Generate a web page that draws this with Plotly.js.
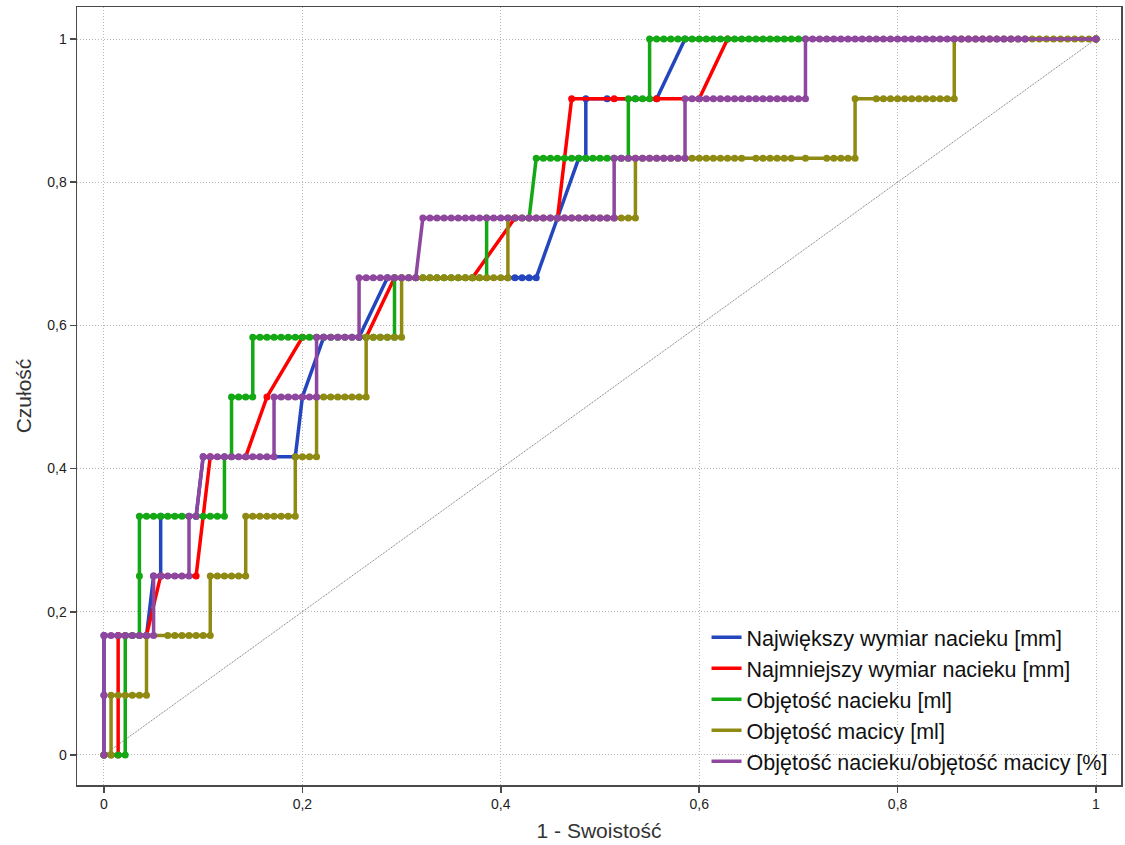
<!DOCTYPE html>
<html>
<head>
<meta charset="utf-8">
<script src="https://cdn.plot.ly/plotly-3.0.1.min.js"></script>
<style>html,body{margin:0;padding:0;background:#fff;}#chart{width:1125px;height:845px;}</style>
</head>
<body>
<div id="chart"></div>
<script>
// ROC data: false positives (out of NEGATIVES) and true positives (out of POSITIVES)
const NEGATIVES = 140;
const POSITIVES = 12;

const seriesNames = [
  "Największy wymiar nacieku [mm]",
  "Najmniejszy wymiar nacieku [mm]",
  "Objętość nacieku [ml]",
  "Objętość macicy [ml]",
  "Objętość nacieku/objętość macicy [%]"
];
const seriesColors = ["#2345bd", "#ff0000", "#14a814", "#8f8a12", "#8e469f"];

const blueFP = [0,0,0,6,7,8,8,13,14,27,28,31,36,40,57,58,59,60,61,64,67,68,68,71,75,78,82,140];
const blueTP = [0,1,2,2,3,3,4,4,5,5,6,7,7,8,8,8,8,8,8,9,10,10,11,11,11,11,12,12];

const redFP = [0,2,2,6,8,13,15,20,23,28,37,41,52,58,64,66,72,78,84,88,140];
const redTP = [0,0,2,2,3,3,5,5,6,7,7,8,8,9,9,11,11,11,11,12,12];

const greenFP = [0,1,2,3,
  3,4,5,
  5,
  5,6,7,8,9,10,11,12,13,14,15,16,17,
  17,18,
  18,19,20,21,
  21,22,23,24,25,26,27,28,29,30,31,32,33,34,35,36,37,38,39,40,41,
  41,42,43,44,45,46,47,48,49,50,51,52,53,54,
  54,60,
  61,62,63,64,65,66,67,68,69,70,71,72,73,74,
  74,75,76,77,
  77,78,79,80,81,82,83,84,85,86,87,88,89,90,91,92,93,94,95,96,97,98,99,
  140];
const greenTP = [0,0,0,0,
  2,2,2,
  3,
  4,4,4,4,4,4,4,4,4,4,4,4,4,
  5,5,
  6,6,6,6,
  7,7,7,7,7,7,7,7,7,7,7,7,7,7,7,7,7,7,7,7,7,
  8,8,8,8,8,8,8,8,8,8,8,8,8,8,
  9,9,
  10,10,10,10,10,10,10,10,10,10,10,10,10,10,
  11,11,11,11,
  12,12,12,12,12,12,12,12,12,12,12,12,12,12,12,12,12,12,12,12,12,12,12,
  12];

const oliveFP = [0,1,
  1,2,3,4,5,6,
  6,9,10,11,12,13,14,15,
  15,16,17,18,19,20,
  20,21,22,23,24,25,26,27,
  27,28,29,30,
  30,31,32,33,34,35,36,37,
  37,38,39,40,41,42,
  42,43,44,45,46,47,48,49,50,51,52,53,54,55,56,57,
  57,58,59,60,61,62,63,64,65,66,67,68,69,70,71,72,73,74,75,
  75,76,77,78,79,80,81,82,83,84,85,86,87,88,89,90,92,93,94,95,96,97,99,102,103,104,105,106,
  106,109,110,111,112,113,114,115,116,117,118,119,120,
  120,121,122,123,124,125,126,127,128,129,130,131,132,133,134,135,136,137,138,139,140];
const oliveTP = [0,0,
  1,1,1,1,1,1,
  2,2,2,2,2,2,2,2,
  3,3,3,3,3,3,
  4,4,4,4,4,4,4,4,
  5,5,5,5,
  6,6,6,6,6,6,6,6,
  7,7,7,7,7,7,
  8,8,8,8,8,8,8,8,8,8,8,8,8,8,8,8,
  9,9,9,9,9,9,9,9,9,9,9,9,9,9,9,9,9,9,9,
  10,10,10,10,10,10,10,10,10,10,10,10,10,10,10,10,10,10,10,10,10,10,10,10,10,10,10,10,
  11,11,11,11,11,11,11,11,11,11,11,11,11,
  12,12,12,12,12,12,12,12,12,12,12,12,12,12,12,12,12,12,12,12,12];

const purpleFP = [0,0,0,1,2,3,4,5,6,7,
  7,8,9,10,11,12,
  12,13,
  14,15,16,17,18,19,20,21,22,23,24,
  24,25,26,27,28,29,30,
  30,31,32,33,34,35,36,
  36,37,38,39,40,41,42,43,44,
  45,46,47,48,49,50,51,52,53,54,55,56,57,58,59,60,61,62,63,64,65,66,67,68,69,70,71,72,
  72,73,74,75,76,77,78,79,80,81,82,
  82,83,84,85,86,87,88,89,90,91,92,93,94,95,96,97,98,99,
  99,100,101,102,103,104,105,106,107,108,109,110,111,112,113,114,115,116,117,118,119,120,121,122,123,124,125,126,127,128,129,130,
  140];
const purpleTP = [0,1,2,2,2,2,2,2,2,2,
  3,3,3,3,3,3,
  4,4,
  5,5,5,5,5,5,5,5,5,5,5,
  6,6,6,6,6,6,6,
  7,7,7,7,7,7,7,
  8,8,8,8,8,8,8,8,8,
  9,9,9,9,9,9,9,9,9,9,9,9,9,9,9,9,9,9,9,9,9,9,9,9,9,9,9,9,
  10,10,10,10,10,10,10,10,10,10,10,
  11,11,11,11,11,11,11,11,11,11,11,11,11,11,11,11,11,11,
  12,12,12,12,12,12,12,12,12,12,12,12,12,12,12,12,12,12,12,12,12,12,12,12,12,12,12,12,12,12,12,12,
  12];

const diagX = [0, 1];
const diagY = [0, 1];

const tickVals = [0, 0.2, 0.4, 0.6, 0.8, 1];
const tickText = ["0", "0,2", "0,4", "0,6", "0,8", "1"];

const allFP = [blueFP, redFP, greenFP, oliveFP, purpleFP];
const allTP = [blueTP, redTP, greenTP, oliveTP, purpleTP];

const FONT = '"Liberation Sans", Arial, sans-serif';

const traces = [{
  x: diagX, y: diagY, mode: 'lines', showlegend: false, hoverinfo: 'skip',
  line: {color: '#6e6e6e', width: 1, dash: '1px,1px'}
}];

seriesNames.forEach((name, i) => {
  const xs = allFP[i].map(v => v / NEGATIVES);
  const ys = allTP[i].map(v => v / POSITIVES);
  traces.push({
    x: xs, y: ys, mode: 'lines', name: name, legendgroup: 'g' + i,
    line: {color: seriesColors[i], width: 3.5}
  });
  traces.push({
    x: xs, y: ys, mode: 'markers', name: name, legendgroup: 'g' + i, showlegend: false,
    marker: {color: seriesColors[i], size: 7}
  });
});

const axisCommon = {
  tickvals: tickVals, ticktext: tickText,
  showgrid: true, gridcolor: '#b8b8b8', gridwidth: 1, griddash: '1px,2px',
  zeroline: false,
  showline: true, linecolor: '#4a4a4a', linewidth: 1.5, mirror: true,
  ticks: 'outside', ticklen: 6, tickwidth: 1.5, tickcolor: '#4a4a4a',
  tickfont: {family: FONT, size: 14, color: '#222'}
};

const layout = {
  width: 1125, height: 845,
  margin: {l: 77, r: 4, t: 7, b: 60},
  paper_bgcolor: '#ffffff', plot_bgcolor: '#ffffff',
  font: {family: FONT, color: '#222'},
  xaxis: Object.assign({}, axisCommon, {
    range: [-0.0272, 1.0252],
    title: {text: '1 - Swoistość', font: {family: FONT, size: 21, color: '#333'}, standoff: 12}
  }),
  yaxis: Object.assign({}, axisCommon, {
    range: [-0.042, 1.0447],
    title: {text: 'Czułość', font: {family: FONT, size: 21, color: '#333'}, standoff: 10}
  }),
  legend: {
    x: 0.603, xanchor: 'left', y: 0.004, yanchor: 'bottom',
    bgcolor: 'rgba(0,0,0,0)', borderwidth: 0,
    font: {family: FONT, size: 21.5, color: '#111'},
    traceorder: 'grouped', tracegroupgap: 0, itemwidth: 30
  },
  showlegend: true
};

Plotly.newPlot('chart', traces, layout, {displayModeBar: false, staticPlot: true});
</script>
</body>
</html>
